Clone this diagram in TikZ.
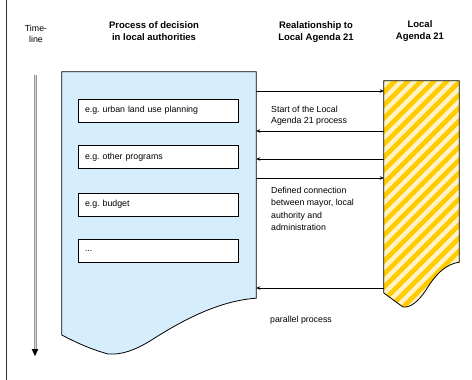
\documentclass[tikz,border=0pt]{standalone}
\usepackage{fontspec}
\setmainfont{Liberation Sans}
\usetikzlibrary{arrows.meta}
\definecolor{deccolor}{RGB}{214,238,252}
\definecolor{stripedark}{RGB}{255,204,0}
\definecolor{stripelight}{RGB}{255,242,200}
\definecolor{timegray}{RGB}{150,150,150}
\definecolor{timelight}{RGB}{215,215,215}
\newcommand{\drawlink}{\draw[link]}
\newcommand{\agendaoutline}{(la.north west) -- (la.north east) -- (la.south east)
    .. controls (447,264) and (437,272) .. (426,290)
    .. controls (418,302) and (410,308) .. (403,307) -- (la.west |- 0,293) -- cycle}
\newcommand{\decoutline}{(dec.north west) -- (dec.north east) -- (dec.south east)
    .. controls (215,301) and (175,325) .. (150,341)
    .. controls (135,350) and (122,355) .. (108,354)
    .. controls (90,349) and (75,342) .. (dec.west |- 0,335) -- cycle}
\frenchspacing

\begin{document}
\begin{tikzpicture}[x=1pt,y=-1pt,
    head/.style={font=\fontsize{9.5}{12}\selectfont\bfseries, align=center},
    note/.style={font=\fontsize{8.8}{11}\selectfont, align=left, anchor=north west, inner sep=0pt},
    itembox/.style={draw, line width=0.8pt, fill=white, minimum width=160pt, minimum height=23pt,
        text width=146pt, inner xsep=7pt, align=left, font=\fontsize{8.8}{10}\selectfont},
    link/.style={line width=0.9pt, -{Stealth[length=4pt,width=3.5pt]}}]
\useasboundingbox (0,0) rectangle (472,380);
\draw[line width=0.8pt, black!80] (6,0) -- (6,380);
% headings
\node[font=\fontsize{8.8}{11.5}\selectfont, align=center] (timehead) at (36,34) {Time-\\line};
\node[head] (dechead) at (154,31) {Process of decision\\in local authorities};
\node[head] (relhead) at (316,32) {Realationship to\\Local Agenda 21};
\node[head] (lahead) at (420,31) {Local\\Agenda 21};
% time line
\coordinate (tstart) at (35,75);
\coordinate (tshaft) at (35,350);
\coordinate (tend) at (35,356);
\draw[line width=3pt, timegray] (tstart) -- (tshaft);
\draw[line width=1pt, timelight] (tstart) -- (tshaft);
\draw[line width=0.1pt, -{Triangle[length=7pt,width=6.5pt]}] (tshaft) -- (tend);
% decision process
\node[inner sep=0pt, minimum width=194pt, minimum height=226pt] (dec) at (159,185) {};
\draw[line width=0.8pt, fill=deccolor] \decoutline;
\foreach \i/\y/\t in {1/110.5/{e.g. urban land use planning}, 2/157/{e.g. other programs},
    3/204.5/{e.g. budget}, 4/251/{...}}
  \node[itembox] (item\i) at (158,\y) {\t};
% local agenda 21
\node[inner sep=0pt, minimum width=75pt, minimum height=181pt] (la) at (421.5,171.5) {};
\begin{scope}
  \clip \agendaoutline;
  \fill[stripelight] (370,70) rectangle (470,320);
  \foreach \x in {120,133,...,490}
    \draw[stripedark, line width=4.6pt] (\x,330) -- ++(260,-260);
\end{scope}
\draw[line width=0.8pt] \agendaoutline;
% relations
\foreach \n/\y in {1/91, 2/131, 3/159, 4/178, 5/288}
  \coordinate (r\n) at (0,\y);
\drawlink (dec.east |- r1) -- (la.west |- r1);
\drawlink (la.west |- r2) -- (dec.east |- r2);
\drawlink (la.west |- r3) -- (dec.east |- r3);
\drawlink (dec.east |- r4) -- (la.west |- r4);
\drawlink (la.west |- r5) -- (dec.east |- r5);
\node[note] (startnote) at (271,106) {Start of the Local\\Agenda 21 process};
\node[note, font=\fontsize{8.8}{12.3}\selectfont] (defnote) at (271,187) {Defined connection\\between mayor, local\\authority and\\administration};
\node[note] (parnote) at (270,316) {parallel process};
\end{tikzpicture}
\end{document}
